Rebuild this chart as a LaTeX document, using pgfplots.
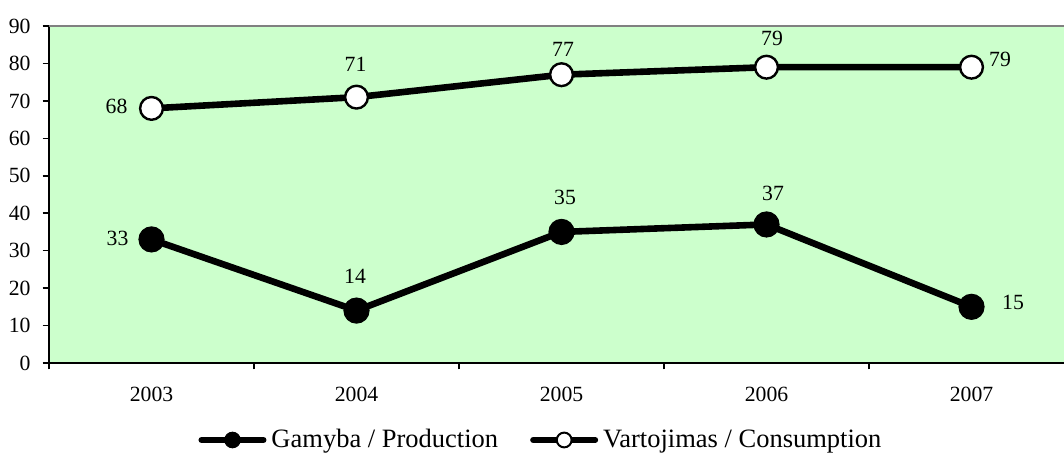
\documentclass[border=0pt]{standalone}
\usepackage{fontspec}
\setmainfont{Liberation Serif}
\usepackage{pgfplots}
\usepackage{pgfplotstable}
\pgfplotsset{compat=1.18}
\definecolor{bgg}{HTML}{CCFFCC}
\definecolor{topg}{HTML}{808080}
\pgfplotstableread{
x y dx dy
0 33 -17 0.7
1 14 -0.75 17
2 35 1.75 17.25
3 37 3.25 15.5
4 15 20.75 2
}\prodtab
\pgfplotstableread{
x y dx dy
0 68 -17.5 0.85
1 71 -0.5 16.5
2 77 0.75 12.75
3 79 2.75 14.2
4 79 14.25 4
}\constab
\begin{document}
\begin{tikzpicture}
\begin{axis}[
  at={(0,0)}, anchor=south west, scale only axis,
  width=507.5pt, height=168.5pt,
  xmin=-0.5, xmax=4.4512, ymin=0, ymax=90,
  axis x line*=bottom, axis y line*=left,
  axis line style={-, black, line width=1pt},
  axis background/.style={fill=bgg},
  xtick={-0.5,0.5,1.5,2.5,3.5},
  xticklabels={2003,2004,2005,2006,2007},
  ytick={0,10,...,90},
  tick align=outside, major tick length=3.2pt,
  tick style={black, line width=0.8pt},
  ticklabel style={font=\fontsize{10.85}{13}\selectfont},
  xticklabel style={xshift=51.25pt, yshift=-5.5pt},
  yticklabel style={xshift=-2.5pt},
  /pgf/number format/assume math mode=true,
  clip=false,
  legend columns=2,
  legend style={at={(0.4837,-0.2285)}, anchor=center, draw=none, fill=none,
    font=\fontsize{13.25}{16}\selectfont,
    /tikz/every even column/.append style={column sep=16pt},
    /tikz/every odd column/.append style={column sep=2.5pt},
    inner sep=0pt, nodes={inner sep=0pt}},
]
\addplot[black, line width=3.3pt, line join=round, mark=*, mark size=6.3pt,
  mark options={fill=black, draw=black, line width=0.5pt},
  nodes near coords,
  visualization depends on={\thisrow{dx}\as\mydx},
  visualization depends on={\thisrow{dy}\as\mydy},
  nodes near coords style={font=\fontsize{10.85}{13}\selectfont, anchor=center,
    inner sep=0pt, xshift=\mydx pt, yshift=\mydy pt, text=black},
  legend image code/.code={
    \draw[black, line width=3pt, line cap=round] (0pt,0pt) -- (31pt,0pt);
    \draw[black, fill=black, line width=0.5pt] (15.5pt,0pt) circle (3.9pt);}
  ] table[x=x,y=y]{\prodtab};
\addlegendentry{Gamyba / Production}
\addplot[black, line width=3.3pt, line join=round, mark=*, mark size=5.7pt,
  mark options={fill=white, draw=black, line width=1.2pt},
  nodes near coords,
  visualization depends on={\thisrow{dx}\as\mydx},
  visualization depends on={\thisrow{dy}\as\mydy},
  nodes near coords style={font=\fontsize{10.85}{13}\selectfont, anchor=center,
    inner sep=0pt, xshift=\mydx pt, yshift=\mydy pt, text=black},
  legend image code/.code={
    \draw[black, line width=3pt, line cap=round] (0pt,0pt) -- (31pt,0pt);
    \draw[black, fill=white, line width=1pt] (15.5pt,0pt) circle (3.7pt);}
  ] table[x=x,y=y]{\constab};
\addlegendentry{Vartojimas / Consumption}
\draw[topg, line width=1pt] (rel axis cs:0,1) -- (rel axis cs:1,1);
\end{axis}
\pgfresetboundingbox
\useasboundingbox (-24.5pt,-45pt) rectangle (507.5pt,181.5pt);
\end{tikzpicture}
\end{document}
